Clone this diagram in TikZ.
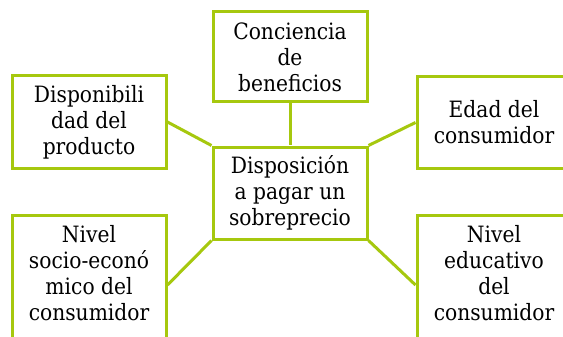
\documentclass[tikz,border=0pt]{standalone}
\usepackage{fontspec}
\setmainfont{DejaVu Serif Condensed}
\definecolor{limeline}{RGB}{166,200,14}
\tikzset{
  box/.style={draw=limeline, line width=3pt, minimum width=154pt, inner sep=0pt, align=center,
    font=\fontsize{22.5}{26}\selectfont, text=black},
  txt/.style={inner sep=0pt, align=center, font=\fontsize{22.5}{26}\selectfont, text=black},
  conn/.style={draw=limeline, line width=3pt}
}
\begin{document}
\begin{tikzpicture}[x=1pt,y=-1pt]
\useasboundingbox (0,0) rectangle (563,337);
\node[box, minimum height=90pt] (conc) at (290,57) {Conciencia\\de\\beneficios};
\node[box, minimum height=92pt] (disp) at (89,122) {Disponibili\\dad del\\producto};
\node[box, minimum height=91pt] (edad) at (494,122.5) {Edad del\\consumidor};
\node[box, minimum height=92pt] (cen) at (290,193) {Disposición\\a pagar un\\sobreprecio};
\node[box, minimum height=140pt] (socio) at (89,285) {};
\node[txt, anchor=north] (sociot) at ([yshift=-12pt]socio.north) {Nivel\\socio-econó\\mico del\\consumidor};
\node[box, minimum height=140pt] (educ) at (494,285) {};
\node[txt, anchor=north] (educt) at ([yshift=-12pt]educ.north) {Nivel\\educativo\\del\\consumidor};
\draw[conn] (conc.south) -- (cen.north);
\draw[conn] (disp.east) -- (cen.north west);
\draw[conn] (edad.west) -- (cen.north east);
\draw[conn] (socio.east) -- (cen.south west);
\draw[conn] (educ.west) -- (cen.south east);
\end{tikzpicture}
\end{document}
